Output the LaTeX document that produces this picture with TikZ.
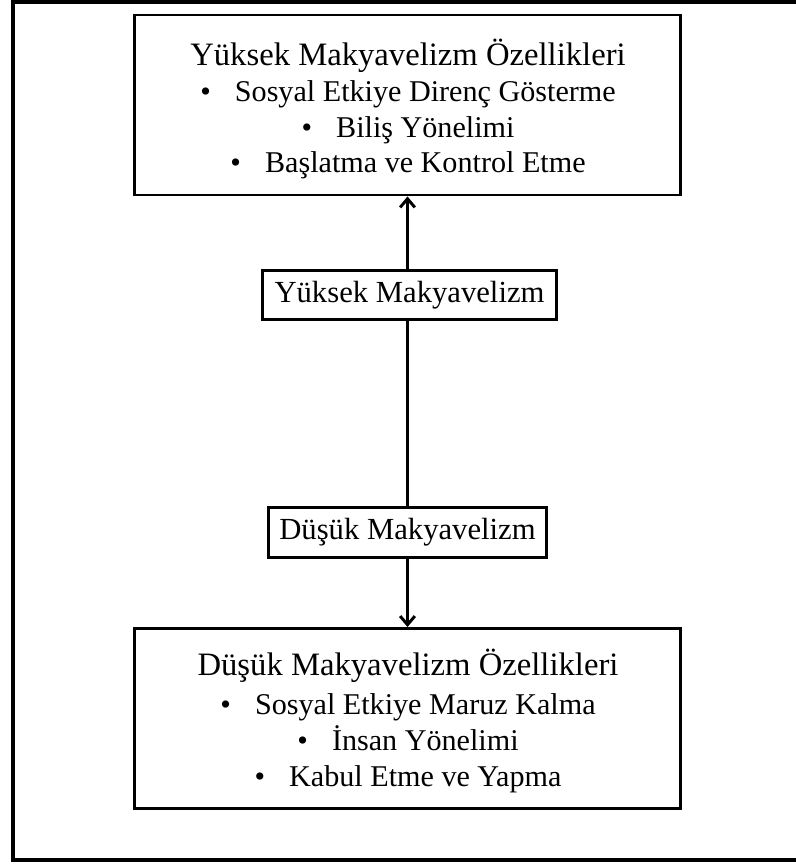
\documentclass[tikz,border=0pt]{standalone}
\usepackage{fontspec}
\setmainfont{Liberation Serif}
\usetikzlibrary{arrows.meta}
\begin{document}
\begin{tikzpicture}[x=0.75pt,y=-0.75pt,
  panel/.style={draw, line width=2.2pt, rectangle, inner sep=0pt,
    minimum width=409pt, minimum height=135pt},
  labelbox/.style={draw, line width=2.2pt, rectangle, inner sep=0pt,
    minimum height=37pt, font=\fontsize{23}{27}\selectfont},
  heading/.style={anchor=base, inner sep=0pt, font=\fontsize{24.5}{29}\selectfont},
  item/.style={anchor=base, inner sep=0pt, font=\fontsize{22.6}{27}\selectfont},
  link/.style={line width=2.2pt},
  flow/.style={line width=2.2pt, -{Straight Barb[length=6.5pt,width=11pt,line width=2.2pt]}}]
\useasboundingbox (0,0) rectangle (796,865);
\clip (0,0) rectangle (796,865);
% outer frame (open on the right)
\draw[line width=3pt] (810,1.5) -- (13,1.5) -- (13,860) -- (810,860);

% upper panel
\node[panel] (high) at (407.5,105) {};
\node[heading] (highhead) at (408,65) {Yüksek Makyavelizm Özellikleri};
\node[item] (high1) at (408,101) {\textbullet\hspace{0.8em}Sosyal Etkiye Direnç Gösterme};
\node[item] (high2) at (408,137) {\textbullet\hspace{0.8em}Biliş Yönelimi};
\node[item] (high3) at (408,172) {\textbullet\hspace{0.8em}Başlatma ve Kontrol Etme};

% lower panel
\node[panel] (low) at (407.5,718.5) {};
\node[heading] (lowhead) at (408,675) {Düşük Makyavelizm Özellikleri};
\node[item] (low1) at (408,714) {\textbullet\hspace{0.8em}Sosyal Etkiye Maruz Kalma};
\node[item] (low2) at (408,750) {\textbullet\hspace{0.8em}İnsan Yönelimi};
\node[item] (low3) at (408,786) {\textbullet\hspace{0.8em}Kabul Etme ve Yapma};

% middle labels
\node[labelbox, minimum width=220.5pt] (hi) at (409.5,295) {Yüksek Makyavelizm};
\node[labelbox, minimum width=209pt] (lo) at (407.5,532.5) {Düşük Makyavelizm};

% connectors, all on the common vertical axis
\draw[flow] (hi.north -| high.south) -- (high.south);
\draw[link] (hi.south -| high.south) -- (lo.north -| high.south);
\draw[flow] (lo.south -| low.north) -- (low.north);
\end{tikzpicture}
\end{document}
